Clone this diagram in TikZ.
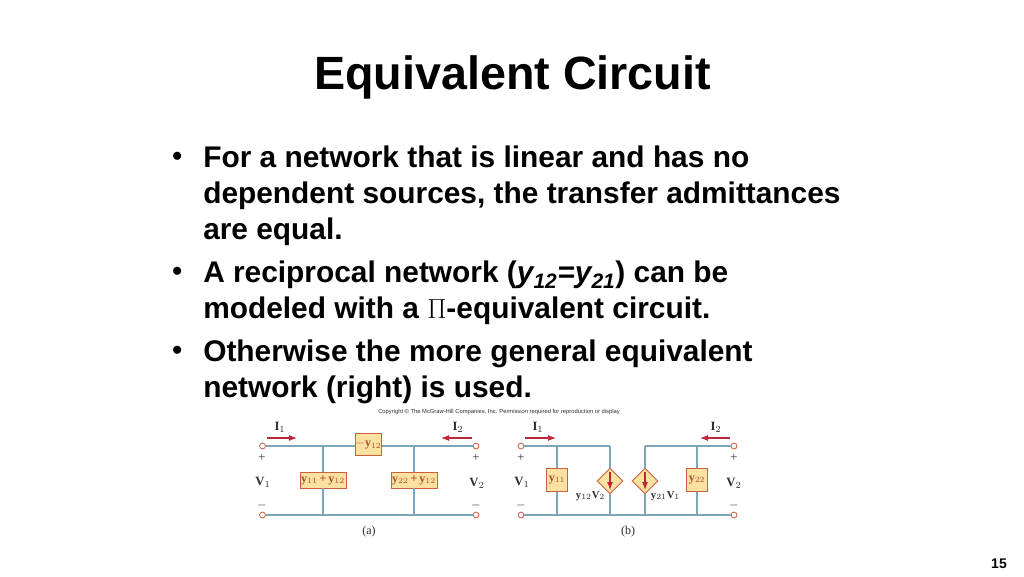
\documentclass[tikz,border=0pt]{standalone}
\usepackage{amsmath, amssymb}
\usepackage{fontspec}
\setmainfont{Liberation Sans}
\newfontfamily\serifpart{Liberation Serif}
\usetikzlibrary{positioning, shapes.geometric, arrows.meta}
\definecolor{wirecol}{RGB}{125,165,185}
\definecolor{boxfill}{RGB}{253,225,160}
\definecolor{boxline}{RGB}{205,95,65}
\definecolor{redcol}{RGB}{190,40,60}
\definecolor{labcol}{RGB}{45,45,50}
\definecolor{boxtext}{RGB}{170,75,50}
\tikzset{
  line text/.style={anchor=west,inner sep=0pt,font=\fontsize{22.4}{36}\selectfont\bfseries,text depth=.25ex},
  dot text/.style={anchor=west,inner sep=0pt,font=\fontsize{21}{36}\selectfont\bfseries},
  elem box/.style={draw=boxline,fill=boxfill,line width=.7pt,inner sep=0pt,text=boxtext,font=\serifpart\fontsize{9}{9}\selectfont\bfseries},
  dep src/.style={diamond,draw=boxline,fill=boxfill,line width=.7pt,minimum width=19.5pt,minimum height=19.5pt,inner sep=0pt},
  term/.style={circle,draw=boxline,fill=white,line width=.6pt,minimum size=4.4pt,inner sep=0pt},
  lab/.style={inner sep=0pt,text=labcol,font=\serifpart\fontsize{9.5}{9.5}\selectfont},
  src lab/.style={inner sep=0pt,text=labcol,font=\serifpart\fontsize{8}{8}\selectfont},
  part label/.style={inner sep=0pt,text=labcol,font=\serifpart\fontsize{9}{9}\selectfont},
}
\newcommand{\ed}[2]{\path[draw, wirecol, line width=.8pt] (#1) edge node {} (#2);}
\newcommand{\ard}[2]{\draw[redcol, line width=.8pt, -{Latex[length=6pt,width=4.5pt]}] (#1) -- (#2);}
\newcommand{\vb}[1]{\textbf{#1}}
\begin{document}
\begin{tikzpicture}[x=.75pt,y=-.75pt]
        \path[use as bounding box,fill=white] (0,0) rectangle (1024,576);

        % heading and bullets
        \node[inner sep=0pt,font=\fontsize{35}{40}\selectfont\bfseries] (title) at (512.5,77) {Equivalent Circuit};
        \node[dot text] (dotA) at (172,158.5) {•};
        \node[line text] (lineA) at (203,158) {For a network that is linear and has no};
        \node[line text] (lineB) at (203,194) {dependent sources, the transfer admittances};
        \node[line text] (lineC) at (203,230) {are equal.};
        \node[dot text] (dotB) at (172,273.5) {•};
        \node[line text] (lineD) at (203,273) {A reciprocal network (\textit{y$_{\text{\textit{12}}}$=y$_{\text{\textit{21}}}$}) can be};
        \node[line text] (lineE) at (203,309) {modeled with a {\serifpart\mdseries $\Pi$}-equivalent circuit.};
        \node[dot text] (dotC) at (172,352.5) {•};
        \node[line text] (lineF) at (203,352) {Otherwise the more general equivalent};
        \node[line text] (lineG) at (203,388) {network (right) is used.};
        \node[inner sep=0pt,text=labcol,font=\fontsize{4.35}{5}\selectfont] (copy) at (499,411.5) {Copyright © The McGraw-Hill Companies, Inc. Permission required for reproduction or display};
        \node[inner sep=0pt,font=\fontsize{10.5}{12}\selectfont\bfseries] (page) at (999,563.5) {15};

        % circuit (a)
        \node[term] (a1) at (262.5,446) {};
        \node[term] (a2) at (262.5,515) {};
        \node[term] (a3) at (476,446) {};
        \node[term] (a4) at (476,515) {};
        \node[elem box,minimum width=20pt,minimum height=17pt] (ym) at (368.5,444.5) {$-$y$_{12}$};
        \node[elem box,minimum width=34.5pt,minimum height=12pt] (ya) at (323,480) {y$_{11}$\,+\,y$_{12}$};
        \node[elem box,minimum width=34.5pt,minimum height=12pt] (yb) at (414,480) {y$_{22}$\,+\,y$_{12}$};
        \coordinate (a5) at (323,446);
        \coordinate (a6) at (414,446);
        \coordinate (a7) at (323,515);
        \coordinate (a8) at (414,515);

        \ed{a1}{a1 -| ym.west}
        \ed{a3 -| ym.east}{a3}
        \ed{a2}{a4}
        \ed{a5}{ya}
        \ed{ya}{a7}
        \ed{a6}{yb}
        \ed{yb}{a8}

        \coordinate (ia1) at (267,438);
        \coordinate (ia2) at (297,438);
        \coordinate (ia3) at (472,438);
        \coordinate (ia4) at (441,438);
        \ard{ia1}{ia2}
        \ard{ia3}{ia4}
        \node[lab] (la1) at (280,427) {\vb{I}$_1$};
        \node[lab] (la2) at (458,427) {\vb{I}$_2$};
        \node[lab] (la3) at (262,458) {+};
        \node[lab] (la4) at (476,458) {+};
        \node[lab] (la5) at (263,482) {\vb{V}$_1$};
        \node[lab] (la6) at (477,483) {\vb{V}$_2$};
        \node[lab] (la7) at (262,505) {$-$};
        \node[lab] (la8) at (476,505) {$-$};
        \node[part label] (capa) at (369,532) {(a)};

        % circuit (b)
        \node[term] (b1) at (521,446) {};
        \node[term] (b2) at (521,515) {};
        \node[term] (b3) at (734,446) {};
        \node[term] (b4) at (734,515) {};
        \node[elem box,minimum width=15.5pt,minimum height=17.5pt] (yc) at (557,480) {y$_{11}$};
        \node[elem box,minimum width=15.5pt,minimum height=17.5pt] (yd) at (697,480) {y$_{22}$};
        \node[dep src] (dl) at (610,481) {};
        \node[dep src] (dr) at (645,481) {};
        \coordinate (b5) at (557,446);
        \coordinate (b6) at (610,446);
        \coordinate (b7) at (645,446);
        \coordinate (b8) at (697,446);
        \coordinate (b9) at (557,515);
        \coordinate (b10) at (610,515);
        \coordinate (b11) at (645,515);
        \coordinate (b12) at (697,515);

        \ed{b1}{b6}
        \ed{b7}{b3}
        \ed{b2}{b4}
        \ed{b5}{yc}
        \ed{yc}{b9}
        \ed{b6}{dl}
        \ed{dl}{b10}
        \ed{b7}{dr}
        \ed{dr}{b11}
        \ed{b8}{yd}
        \ed{yd}{b12}

        \coordinate (dl1) at (610,472);
        \coordinate (dl2) at (610,490);
        \coordinate (dr1) at (645,472);
        \coordinate (dr2) at (645,490);
        \ard{dl1}{dl2}
        \ard{dr1}{dr2}

        \coordinate (ib1) at (525,438);
        \coordinate (ib2) at (556,438);
        \coordinate (ib3) at (730,438);
        \coordinate (ib4) at (700,438);
        \ard{ib1}{ib2}
        \ard{ib3}{ib4}
        \node[lab] (lb1) at (538,427) {\vb{I}$_1$};
        \node[lab] (lb2) at (716,427) {\vb{I}$_2$};
        \node[lab] (lb3) at (521,458) {+};
        \node[lab] (lb4) at (734,458) {+};
        \node[lab] (lb5) at (522,482) {\vb{V}$_1$};
        \node[lab] (lb6) at (734,483) {\vb{V}$_2$};
        \node[lab] (lb7) at (521,505) {$-$};
        \node[lab] (lb8) at (734,505) {$-$};
        \node[src lab] (lb9) at (590.5,496) {\vb{y}$_{12}$\vb{V}$_2$};
        \node[src lab] (lb10) at (665.5,496) {\vb{y}$_{21}$\vb{V}$_1$};
        \node[part label] (capb) at (628,532) {(b)};
    \end{tikzpicture}
\end{document}
